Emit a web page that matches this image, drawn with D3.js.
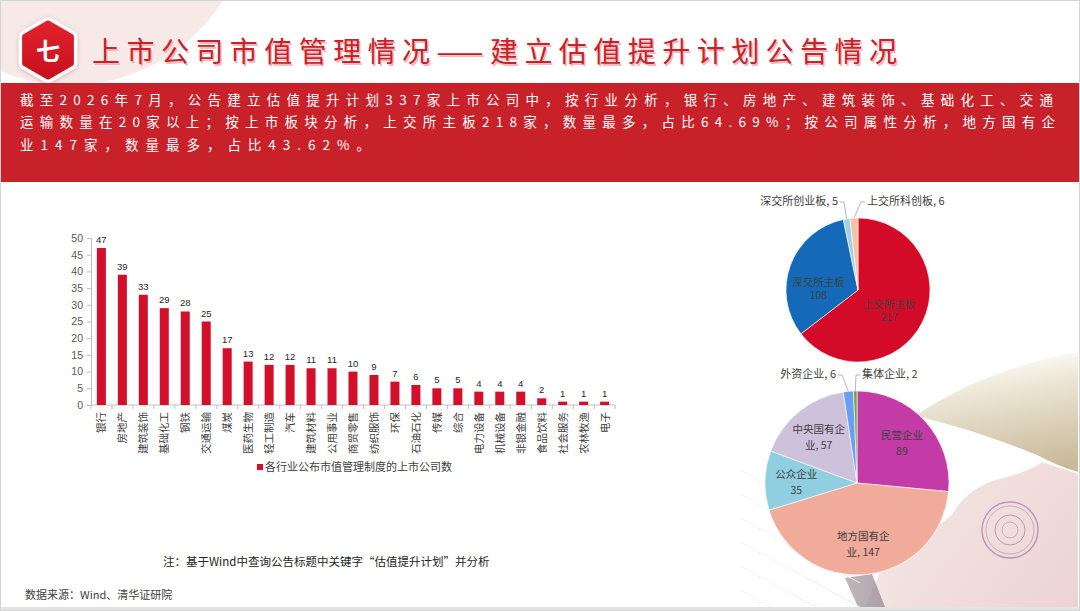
<!DOCTYPE html>
<html>
<head>
<meta charset="utf-8">
<script src="https://cdn.jsdelivr.net/npm/d3@7"></script>
<style>
  body { margin: 0; background: #fff; }
  svg { display: block; }
  text { font-family: "Liberation Sans", "Noto Sans CJK SC", sans-serif; }
  .cjk { font-family: "Noto Sans CJK SC", sans-serif; }
</style>
</head>
<body>
<svg id="slide" width="1080" height="611"></svg>
<script>
// ---- data ----
const badgeText = "七";
const titleText = "上市公司市值管理情况——建立估值提升计划公告情况";
const summaryLines = [
  "截至2026年7月，公告建立估值提升计划337家上市公司中，按行业分析，银行、房地产、建筑装饰、基础化工、交通",
  "运输数量在20家以上；按上市板块分析，上交所主板218家，数量最多，占比64.69%；按公司属性分析，地方国有企",
  "业147家，数量最多，占比43.62%。"
];
const industries = ["银行", "房地产", "建筑装饰", "基础化工", "钢铁", "交通运输", "煤炭", "医药生物",
  "轻工制造", "汽车", "建筑材料", "公用事业", "商贸零售", "纺织服饰", "环保", "石油石化", "传媒",
  "综合", "电力设备", "机械设备", "非银金融", "食品饮料", "社会服务", "农林牧渔", "电子"];
const industryCounts = [47, 39, 33, 29, 28, 25, 17, 13, 12, 12, 11, 11, 10, 9, 7, 6, 5, 5, 4, 4, 4, 2, 1, 1, 1];
const yTicks = [0, 5, 10, 15, 20, 25, 30, 35, 40, 45, 50];
const seriesName = "各行业公布市值管理制度的上市公司数";
const boards = ["上交所主板", "深交所主板", "深交所创业板", "上交所科创板"];
const boardCounts = [217, 108, 5, 6];
const ownerTypes = ["民营企业", "地方国有企业", "公众企业", "中央国有企业", "外资企业", "集体企业"];
const ownerCounts = [89, 147, 35, 57, 6, 2];
const noteText = "注：基于Wind中查询公告标题中关键字“估值提升计划”并分析";
const sourceText = "数据来源：Wind、清华证研院";

const W = 1080, H = 611;
const RED = "#c9212a";
const svg = d3.select("#slide");
const defs = svg.append("defs");

// ---- background decoration ----
function drawBackground() {
  svg.append("rect").attr("width", W).attr("height", H).attr("fill", "#fff");

  // pale pink disc behind the badge
  svg.append("circle").attr("cx", 70).attr("cy", -95).attr("r", 180).attr("fill", "#f8e9e9");

  // photo of book / paper, lower right (rough shapes)
  const beige = defs.append("linearGradient").attr("id", "beige")
    .attr("gradientUnits", "userSpaceOnUse")
    .attr("x1", 1010).attr("y1", 352).attr("x2", 1030).attr("y2", 470);
  beige.append("stop").attr("offset", 0).attr("stop-color", "#ffffff");
  beige.append("stop").attr("offset", 0.3).attr("stop-color", "#ede6d6");
  beige.append("stop").attr("offset", 1).attr("stop-color", "#c8ba99");
  svg.append("path").attr("fill", "url(#beige)")
    .attr("d", "M915,416 C960,385 1020,362 1078,352 L1078,472 C1065,468 1050,462 1037,455 C1000,440 960,426 915,416 Z");

  const pink = defs.append("linearGradient").attr("id", "pink")
    .attr("gradientUnits", "userSpaceOnUse")
    .attr("x1", 900).attr("y1", 470).attr("x2", 1078).attr("y2", 607);
  pink.append("stop").attr("offset", 0).attr("stop-color", "#f4e6e5");
  pink.append("stop").attr("offset", 1).attr("stop-color", "#ecd4d3");
  svg.append("path").attr("fill", "url(#pink)")
    .attr("d", "M1078,474 L1042,462 C1032,470 1012,476 992,481 C972,489 960,500 952,515 C937,528 912,540 887,555 L865,607 L1078,607 Z");

  // seal
  const seal = svg.append("g").attr("transform", "translate(1010,530)")
    .attr("fill", "none").attr("stroke", "#b083b5").attr("opacity", 0.8);
  seal.append("circle").attr("r", 28).attr("stroke-width", 1.4);
  seal.append("circle").attr("r", 24).attr("stroke-width", 0.7);
  seal.append("circle").attr("r", 15).attr("stroke-width", 1);
  seal.append("circle").attr("r", 8).attr("stroke-width", 0.7);

  // dark edge under the pie
  svg.append("path").attr("fill", "#8d8289").attr("opacity", 0.75)
    .attr("d", "M845,578 L872,574 L885,607 L858,607 Z");

  // faint ruled lines of the notebook
  const rules = svg.append("g").attr("stroke", "#e6e6ea").attr("stroke-width", 1);
  d3.range(6).forEach(i => {
    rules.append("line").attr("x1", 740).attr("y1", 470 + i * 24)
      .attr("x2", 860).attr("y2", 535 + i * 24);
  });

  // fade the photo in from the left
  const fade = defs.append("linearGradient").attr("id", "fade").attr("x1", 0).attr("x2", 1);
  fade.append("stop").attr("offset", 0).attr("stop-color", "#fff").attr("stop-opacity", 1);
  fade.append("stop").attr("offset", 0.45).attr("stop-color", "#fff").attr("stop-opacity", 0.6);
  fade.append("stop").attr("offset", 1).attr("stop-color", "#fff").attr("stop-opacity", 0);
  svg.append("rect").attr("x", 640).attr("y", 340).attr("width", 260).attr("height", 271)
    .attr("fill", "url(#fade)");
}

// ---- header: badge, title, red summary band ----
function drawHeader() {
  const hex = d3.range(6).map(i => {
    const a = Math.PI / 3 * i - Math.PI / 2;
    return [48 + 27 * Math.cos(a), 50 + 27 * Math.sin(a)];
  });
  const hexPath = d3.line().curve(d3.curveLinearClosed);

  const shadow = defs.append("filter").attr("id", "soft").attr("x", "-30%").attr("y", "-30%")
    .attr("width", "160%").attr("height", "160%");
  shadow.append("feDropShadow").attr("dx", 0).attr("dy", 1).attr("stdDeviation", 2)
    .attr("flood-color", "#b08080").attr("flood-opacity", 0.5);

  svg.append("path").attr("d", hexPath(hex)).attr("fill", "#fff")
    .attr("stroke", "#fff").attr("stroke-width", 12).attr("stroke-linejoin", "round")
    .attr("filter", "url(#soft)");
  const hexGrad = defs.append("linearGradient").attr("id", "hexGrad")
    .attr("x1", 0).attr("y1", 0).attr("x2", 0).attr("y2", 1);
  hexGrad.append("stop").attr("offset", 0).attr("stop-color", "#e1222c");
  hexGrad.append("stop").attr("offset", 1).attr("stop-color", "#c8101d");
  svg.append("path").attr("d", hexPath(hex)).attr("fill", "url(#hexGrad)")
    .attr("stroke", "url(#hexGrad)").attr("stroke-width", 5).attr("stroke-linejoin", "round");
  svg.append("text").attr("class", "cjk").attr("x", 48).attr("y", 51).attr("dy", "0.36em")
    .attr("text-anchor", "middle").attr("fill", "#fff").attr("font-size", 24).attr("font-weight", 700)
    .text(badgeText);

  // title with a faint offset shadow
  [["#efb9b9", 1.5], [RED, 0]].forEach(([c, off]) => {
    svg.append("text").attr("class", "cjk").attr("x", 92 + off).attr("y", 62 + off)
      .attr("font-size", 28).attr("fill", c)
      .attr("textLength", 805).attr("lengthAdjust", "spacing")
      .text(titleText);
  });

  svg.append("rect").attr("x", 0).attr("y", 83).attr("width", W).attr("height", 99).attr("fill", RED);
  const widths = [1033, 1035, 350];
  svg.append("g").selectAll("text").data(summaryLines).join("text")
    .attr("class", "cjk")
    .attr("x", 20).attr("y", (d, i) => 100 + i * 22.5).attr("dy", "0.36em")
    .attr("font-size", 13.5).attr("fill", "#fff")
    .attr("textLength", (d, i) => widths[i]).attr("lengthAdjust", "spacing")
    .text(d => d);
}

// ---- industry bar chart ----
function drawBars() {
  const x = d3.scaleBand().domain(industries).range([91, 615]).paddingInner(0.57).paddingOuter(0.28);
  const y = d3.scaleLinear().domain([0, 50]).range([405, 238]);
  const g = svg.append("g");

  const yAxis = g.append("g").attr("transform", "translate(91,0)")
    .call(d3.axisLeft(y).tickValues(yTicks).tickSize(4).tickPadding(4));
  yAxis.select(".domain").attr("stroke", "#bfbfbf");
  yAxis.selectAll(".tick line").attr("stroke", "#bfbfbf");
  yAxis.selectAll(".tick text").attr("font-size", 10.5).attr("fill", "#595959")
    .attr("font-family", "Liberation Sans, sans-serif");

  // x axis baseline with ticks between categories
  g.append("line").attr("x1", 91).attr("x2", 615).attr("y1", y(0)).attr("y2", y(0))
    .attr("stroke", "#bfbfbf");
  const step = x.step();
  g.append("g").selectAll("line").data(d3.range(industries.length + 1)).join("line")
    .attr("x1", i => 91 + i * step).attr("x2", i => 91 + i * step)
    .attr("y1", y(0)).attr("y2", y(0) + 4).attr("stroke", "#bfbfbf");

  const bars = g.append("g").selectAll("g").data(industries).join("g");
  bars.append("rect")
    .attr("x", d => x(d)).attr("width", x.bandwidth())
    .attr("y", (d, i) => y(industryCounts[i]))
    .attr("height", (d, i) => y(0) - y(industryCounts[i]))
    .attr("fill", "#d3102b");
  bars.append("text")
    .attr("x", d => x(d) + x.bandwidth() / 2)
    .attr("y", (d, i) => y(industryCounts[i]) - 5)
    .attr("text-anchor", "middle").attr("font-size", 9.5).attr("fill", "#262626")
    .text((d, i) => industryCounts[i]);
  bars.append("text")
    .attr("class", "cjk")
    .attr("transform", d => `translate(${x(d) + x.bandwidth() / 2 + 4},${y(0) + 7}) rotate(-90)`)
    .attr("text-anchor", "end").attr("font-size", 10.5).attr("fill", "#404040")
    .text(d => d);

  // legend
  g.append("rect").attr("x", 257).attr("y", 464).attr("width", 6).attr("height", 6).attr("fill", "#d3102b");
  g.append("text").attr("class", "cjk").attr("x", 265).attr("y", 467).attr("dy", "0.36em")
    .attr("font-size", 11).attr("fill", "#404040").text(seriesName);
}

// ---- pies ----
function drawPie(names, values, opt) {
  const pie = d3.pie().sort(null).startAngle(0).endAngle(2 * Math.PI);
  const arcs = pie(values);
  const arc = d3.arc().innerRadius(0).outerRadius(opt.r);
  const g = svg.append("g").attr("transform", `translate(${opt.cx},${opt.cy})`);

  g.selectAll("path").data(arcs).join("path")
    .attr("d", arc).attr("fill", (d, i) => opt.colors[i])
    .attr("stroke", "#fff").attr("stroke-width", 0.6);

  const polar = (a, rr) => [rr * Math.sin(a), -rr * Math.cos(a)];

  arcs.forEach((d, i) => {
    const name = names[i], v = values[i];
    const out = opt.outside[name];
    if (out) {
      // small slice: label above the pie with a leader line
      const mid = (d.startAngle + d.endAngle) / 2;
      const [px, py] = polar(mid, opt.r);
      const lx = out.dx, ly = -opt.r - 13;
      const side = out.anchor === "end" ? 1 : -1;
      g.append("polyline")
        .attr("points", [[lx + side * 2, ly - 3], [lx + side * 6, ly - 3], [px, py]].join(" "))
        .attr("fill", "none").attr("stroke", "#a6a6a6").attr("stroke-width", 0.8);
      g.append("text").attr("class", "cjk").attr("x", lx).attr("y", ly)
        .attr("text-anchor", out.anchor).attr("font-size", 11).attr("fill", "#404040")
        .text(`${name}, ${v}`);
      return;
    }
    const pos = opt.inside[name] || { a: (d.startAngle + d.endAngle) / 2 * 180 / Math.PI, rf: opt.rf };
    const [tx, ty] = polar(pos.a * Math.PI / 180, opt.r * pos.rf);
    // long names wrap after five characters, as the spreadsheet did
    const lines = name.length > 5 ? [name.slice(0, 5), `${name.slice(5)}, ${v}`] : [name, String(v)];
    g.append("text").attr("class", "cjk").attr("text-anchor", "middle")
      .attr("font-size", 10.5).attr("fill", "#404040")
      .selectAll("tspan").data(lines).join("tspan")
      .attr("x", tx).attr("y", (t, k) => ty - 3 + k * opt.lineGap)
      .text(t => t);
  });
}

drawBackground();
drawHeader();
drawBars();

drawPie(boards, boardCounts, {
  cx: 858, cy: 290, r: 72, rf: 0.6, lineGap: 13,
  colors: ["#d30b29", "#1469b8", "#a3cfe9", "#f6c3a2"],
  inside: { "上交所主板": { a: 124, rf: 0.52 }, "深交所主板": { a: 272, rf: 0.55 } },
  outside: { "深交所创业板": { dx: -20, anchor: "end" }, "上交所科创板": { dx: 9, anchor: "start" } }
});

drawPie(ownerTypes, ownerCounts, {
  cx: 857, cy: 483, r: 92, rf: 0.66, lineGap: 16,
  colors: ["#c23ba6", "#f0ab9b", "#8fcfe1", "#cdc1dc", "#6d9df3", "#6aab3b"],
  inside: {},
  outside: { "外资企业": { dx: -21, anchor: "end" }, "集体企业": { dx: 5, anchor: "start" } }
});

// ---- footnotes and frame ----
svg.append("text").attr("class", "cjk").attr("x", 163).attr("y", 562).attr("dy", "0.36em")
  .attr("font-size", 11.5).attr("fill", "#262626").text(noteText);
svg.append("text").attr("class", "cjk").attr("x", 25).attr("y", 595).attr("dy", "0.36em")
  .attr("font-size", 11).attr("fill", "#404040").text(sourceText);
svg.append("rect").attr("x", 0).attr("y", 607).attr("width", W).attr("height", 4).attr("fill", "#e4e4e4");
svg.append("rect").attr("x", 0.5).attr("y", 0.5).attr("width", W - 1).attr("height", H - 1)
  .attr("fill", "none").attr("stroke", "#d4d4d4");
</script>
</body>
</html>
